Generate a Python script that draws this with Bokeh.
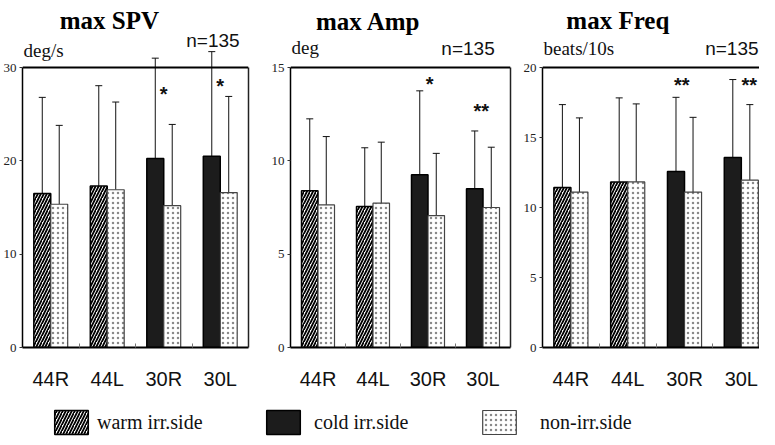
from bokeh.plotting import figure
from bokeh.models import (Range1d, FixedTicker, ColumnDataSource, Whisker, TeeHead,
                          Label, Legend, LegendItem, LinearAxis, Span)
from bokeh.layouts import row, column
from bokeh.embed import file_html
from bokeh.resources import INLINE
from bokeh.core.properties import value

# ---------------- data ----------------
categories = ["44R", "44L", "30R", "30L"]
irr_side = ["warm", "warm", "cold", "cold"]
n_text = "n=135"

spv_irr = [16.5, 17.3, 20.25, 20.5]
spv_irr_sd = [10.3, 10.75, 10.75, 11.2]
spv_non = [15.35, 16.9, 15.2, 16.6]
spv_non_sd = [8.45, 9.4, 8.7, 10.3]
spv_sig = ["", "", "*", "*"]

amp_irr = [8.4, 7.55, 9.25, 8.5]
amp_irr_sd = [3.85, 3.15, 4.5, 3.1]
amp_non = [7.64, 7.73, 7.07, 7.5]
amp_non_sd = [3.66, 3.27, 3.33, 3.23]
amp_sig = ["", "", "*", "**"]

freq_irr = [11.42, 11.83, 12.57, 13.57]
freq_irr_sd = [5.93, 6.0, 5.3, 5.57]
freq_non = [11.1, 11.83, 11.1, 11.95]
freq_non_sd = [5.3, 5.57, 5.34, 5.4]
freq_sig = ["", "", "**", "**"]

legend_labels = {"warm": "warm irr.side", "cold": "cold irr.side", "non": "non-irr.side"}

# ---------------- styles / layout ----------------
SERIF = "Liberation Serif"
SANS = "Liberation Sans"
NARROW = "Liberation Sans Narrow"
HEAD_H = 67          # px above the box (titles, units)
BOX_H = 280          # height (px) of the boxed plotting area
BOTTOM_B = 45        # px below the box (category labels)
TOP_H = HEAD_H + BOX_H + BOTTOM_B
LEG_H = 45

warm_style = dict(fill_color="white", hatch_pattern="/", hatch_color="black",
                  hatch_weight=1.8, hatch_scale=6, line_color="black", line_width=1.5)
cold_style = dict(fill_color="#1c1c1c", line_color="black", line_width=1.5)
non_style = dict(fill_color="white", hatch_pattern=".", hatch_color="#8a8a8a",
                 hatch_weight=1, hatch_scale=5, line_color="#444444", line_width=1.2)

panels = [
    dict(title="max SPV", unit="deg/s", ymax=30, yticks=[0, 10, 20, 30],
         irr=spv_irr, irr_sd=spv_irr_sd, non=spv_non, non_sd=spv_non_sd, sig=spv_sig),
    dict(title="max Amp", unit="deg", ymax=15, yticks=[0, 5, 10, 15],
         irr=amp_irr, irr_sd=amp_irr_sd, non=amp_non, non_sd=amp_non_sd, sig=amp_sig),
    dict(title="max Freq", unit="beats/10s", ymax=20, yticks=[0, 5, 10, 15, 20],
         irr=freq_irr, irr_sd=freq_irr_sd, non=freq_non, non_sd=freq_non_sd, sig=freq_sig),
]

# per-panel geometry (pixels) and annotation placement (px from box top-left)
layouts = [
    dict(left=19, frame_w=229, right=20, xmax=4.0, right_border=True,
         title_dx=88, title_dy=47, unit_dx=1, unit_dy=17, n_dx=220, n_dy=27,
         sig_dx=[0, 0, 0, 0], sig_y=[0, 0, 27.4, 28.2]),
    dict(left=19, frame_w=223, right=10, xmax=4.0, right_border=True,
         title_dx=79, title_dy=46, unit_dx=1, unit_dy=20, n_dx=207, n_dy=19,
         sig_dx=[0, 0, 0.03, -0.03], sig_y=[0, 0, 14.25, 12.8]),
    dict(left=20, frame_w=219, right=0, xmax=3.82, right_border=False,
         title_dx=76, title_dy=47, unit_dx=1, unit_dy=19, n_dx=218, n_dy=19,
         sig_dx=[0, 0, -0.05, 0.14], sig_y=[0, 0, 18.9, 18.9]),
]


def make_panel(d, lay):
    ymax = d["ymax"]
    y_top = ymax * (BOX_H + HEAD_H) / BOX_H
    px_y = ymax / BOX_H                 # data units per pixel (y)
    px_x = lay["xmax"] / lay["frame_w"]  # data units per pixel (x)
    p = figure(width=lay["left"] + lay["frame_w"] + lay["right"], height=TOP_H,
               x_range=Range1d(0, lay["xmax"]), y_range=Range1d(0, y_top),
               output_backend="svg", toolbar_location=None,
               min_border_left=lay["left"], min_border_right=lay["right"],
               min_border_top=0, min_border_bottom=BOTTOM_B,
               background_fill_color="white", border_fill_color="white",
               outline_line_color=None)
    p.grid.visible = False

    # box: top line and (optional) right line
    p.add_layout(Span(location=ymax, dimension="width", line_color="black", line_width=2))
    if lay["right_border"]:
        rax = LinearAxis(bounds=(0, ymax), ticker=FixedTicker(ticks=[]),
                         major_label_text_font_size="0px", axis_line_width=1.5,
                         axis_line_color="#222222", major_tick_line_color=None,
                         minor_tick_line_color=None)
        p.add_layout(rax, "right")

    xc = [i + 0.5 for i in range(len(categories))]
    off = 0.15
    bw = 0.3

    irr_src = {"warm": dict(x=[], top=[], upper=[]), "cold": dict(x=[], top=[], upper=[])}
    for i, side in enumerate(irr_side):
        irr_src[side]["x"].append(xc[i] - off)
        irr_src[side]["top"].append(d["irr"][i])
        irr_src[side]["upper"].append(d["irr"][i] + d["irr_sd"][i])
    warm_cds = ColumnDataSource(irr_src["warm"])
    cold_cds = ColumnDataSource(irr_src["cold"])
    non_cds = ColumnDataSource(dict(x=[c + off for c in xc], top=d["non"],
                                    upper=[m + s for m, s in zip(d["non"], d["non_sd"])]))

    p.vbar(x="x", top="top", bottom=0, width=bw, source=warm_cds, **warm_style)
    p.vbar(x="x", top="top", bottom=0, width=bw, source=cold_cds, **cold_style)
    p.vbar(x="x", top="top", bottom=0, width=bw, source=non_cds, **non_style)

    for src in (warm_cds, cold_cds, non_cds):
        w = Whisker(source=src, base="x", lower="top", upper="upper", dimension="height",
                    line_color="#111111", line_width=1,
                    upper_head=TeeHead(size=7, line_color="#111111", line_width=1),
                    lower_head=None)
        p.add_layout(w)

    sx, sy, st = [], [], []
    for i, s in enumerate(d["sig"]):
        if s:
            sx.append(xc[i] + lay["sig_dx"][i])
            sy.append(lay["sig_y"][i])
            st.append(s)
    p.text(x="x", y="y", text="t", source=ColumnDataSource(dict(x=sx, y=sy, t=st)),
           text_font=value(SANS), text_font_style="bold", text_font_size="20px",
           text_align="center", text_baseline="middle", text_color="#111111", y_offset=2)

    # axes
    xa = p.xaxis[0]
    xa.ticker = FixedTicker(ticks=xc, minor_ticks=[1, 2, 3])
    xa.major_label_overrides = {c: lab for c, lab in zip(xc, categories)}
    xa.axis_line_width = 2
    xa.axis_line_color = "black"
    xa.major_tick_in = 0
    xa.major_tick_out = 0
    xa.minor_tick_in = 4
    xa.minor_tick_out = 0
    xa.minor_tick_line_color = "#777777"
    xa.major_label_text_font = SANS
    xa.major_label_text_font_size = "20px"
    xa.major_label_text_color = "#111111"
    xa.major_label_standoff = 20

    ya = p.yaxis[0]
    ya.bounds = (0, ymax)
    ya.ticker = FixedTicker(ticks=d["yticks"])
    ya.axis_line_width = 1.5
    ya.axis_line_color = "black"
    ya.major_tick_in = 0
    ya.major_tick_out = 3
    ya.major_tick_line_color = "#333333"
    ya.minor_tick_line_color = None
    ya.major_label_text_font = NARROW
    ya.major_label_text_font_size = "13px"
    ya.major_label_text_color = "#222222"
    ya.major_label_standoff = 3

    # texts above the box (positions given in px from the box's top-left corner)
    p.add_layout(Label(x=lay["title_dx"] * px_x, y=ymax + lay["title_dy"] * px_y,
                       text=d["title"], text_align="center", text_baseline="middle",
                       text_font=SERIF, text_font_style="bold", text_font_size="25px",
                       text_color="black"))
    p.add_layout(Label(x=lay["unit_dx"] * px_x, y=ymax + lay["unit_dy"] * px_y,
                       text=d["unit"], text_align="left", text_baseline="middle",
                       text_font=SERIF, text_font_size="19px", text_color="#111111"))
    p.add_layout(Label(x=lay["n_dx"] * px_x, y=ymax + lay["n_dy"] * px_y,
                       text=n_text, text_align="right", text_baseline="middle",
                       text_font=SANS, text_font_size="19px", text_color="#111111"))
    return p


figs = [make_panel(d, lay) for d, lay in zip(panels, layouts)]

# ---------------- legend strip ----------------
pl = figure(width=759, height=LEG_H, x_range=Range1d(0, 1), y_range=Range1d(0, 1),
            output_backend="svg", toolbar_location=None, min_border=0,
            x_axis_type=None, y_axis_type=None, outline_line_color=None,
            background_fill_color="white", border_fill_color="white")
pl.grid.visible = False
# swatch renderers: one undrawable (NaN) bar each, only their legend swatches show
nan = float("nan")
r_warm = pl.vbar(x=[nan], top=[nan], width=0.1, **warm_style)
r_cold = pl.vbar(x=[nan], top=[nan], width=0.1, **cold_style)
r_non = pl.vbar(x=[nan], top=[nan], width=0.1, **non_style)

for rend, key, xloc, standoff in ((r_warm, "warm", 50, 5), (r_cold, "cold", 262, 10),
                                  (r_non, "non", 478, 20)):
    lg = Legend(items=[LegendItem(label=legend_labels[key], renderers=[rend])],
                location=(xloc, 0), orientation="horizontal",
                glyph_width=42, glyph_height=30, label_height=30,
                label_standoff=standoff, padding=0, margin=0, spacing=0,
                border_line_color=None, background_fill_alpha=0,
                label_text_font=SERIF, label_text_font_size="20px",
                label_text_color="#111111")
    pl.add_layout(lg)

layout = column(row(*figs), pl)
open("out.html", "w").write(file_html(layout, INLINE))
